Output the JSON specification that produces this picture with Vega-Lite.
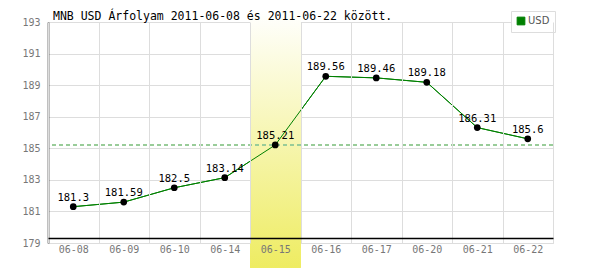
{
  "$schema": "https://vega.github.io/schema/vega-lite/v6.json",
  "width": 505,
  "height": 221,
  "autosize": {"type": "none"},
  "padding": {"left": 48, "top": 22, "right": 47, "bottom": 27},
  "background": "#ffffff",
  "title": {
    "text": "MNB USD Árfolyam 2011-06-08 és 2011-06-22 között.",
    "anchor": "start",
    "frame": "group",
    "font": "DejaVu Sans Mono",
    "fontSize": 11.5,
    "fontWeight": "normal",
    "color": "#000000",
    "offset": 4,
    "dx": 5,
    "dy": 16
  },
  "config": {
    "view": {"stroke": "#dddddd", "strokeWidth": 1}
  },
  "data": {
    "values": [
      {"date": "06-08", "rate": 181.3, "currency": "USD"},
      {"date": "06-09", "rate": 181.59, "currency": "USD"},
      {"date": "06-10", "rate": 182.5, "currency": "USD"},
      {"date": "06-14", "rate": 183.14, "currency": "USD"},
      {"date": "06-15", "rate": 185.21, "currency": "USD"},
      {"date": "06-16", "rate": 189.56, "currency": "USD"},
      {"date": "06-17", "rate": 189.46, "currency": "USD"},
      {"date": "06-20", "rate": 189.18, "currency": "USD"},
      {"date": "06-21", "rate": 186.31, "currency": "USD"},
      {"date": "06-22", "rate": 185.6, "currency": "USD"}
    ]
  },
  "layer": [
    {
      "mark": {"type": "line", "strokeWidth": 1},
      "encoding": {
        "x": {
          "field": "date",
          "type": "ordinal",
          "scale": {"domain": ["06-08", "06-09", "06-10", "06-14", "06-15", "06-16", "06-17", "06-20", "06-21", "06-22"], "paddingInner": 0, "paddingOuter": 0},
          "axis": {
            "title": null,
            "labelAngle": 0,
            "tickBand": "extent",
            "ticks": false,
            "grid": true,
            "gridColor": "#dddddd",
            "gridWidth": 1,
            "domainColor": "#000000",
            "domainWidth": 1.5,
            "offset": -5,
            "zindex": 1,
            "labelFont": "DejaVu Sans Mono",
            "labelFontSize": 10,
            "labelColor": "#777777",
            "labelPadding": 6
          }
        },
        "y": {
          "field": "rate",
          "type": "quantitative",
          "scale": {"domain": [179, 193], "nice": false, "zero": false},
          "axis": {
            "title": null,
            "values": [179, 181, 183, 185, 187, 189, 191, 193],
            "tickCount": 8,
            "labelOverlap": false,
            "ticks": false,
            "grid": true,
            "gridColor": "#dddddd",
            "domainColor": "#000000",
            "domainWidth": 1.5,
            "labelFont": "DejaVu Sans Mono",
            "labelFontSize": 10,
            "labelColor": "#777777",
            "labelPadding": 8
          }
        },
        "color": {
          "field": "currency",
          "type": "nominal",
          "scale": {"range": ["#008000"]},
          "legend": {
            "title": null,
            "orient": "none",
            "legendX": 463,
            "legendY": -11,
            "padding": 5,
            "strokeColor": "#dddddd",
            "fillColor": "#ffffff",
            "symbolType": "square",
            "symbolSize": 60,
            "labelFont": "DejaVu Sans",
            "labelFontSize": 10,
            "labelColor": "#555555",
            "labelOffset": 2,
            "encode": {
              "symbols": {"update": {"fill": {"value": "#008000"}, "stroke": {"value": "#555555"}, "strokeWidth": {"value": 1}}}
            }
          }
        }
      }
    },
    {
      "mark": {
        "type": "rect",
        "clip": false,
        "fill": {
          "gradient": "linear",
          "x1": 0, "y1": 0, "x2": 0, "y2": 1,
          "stops": [
            {"offset": 0, "color": "#ffffff"},
            {"offset": 1, "color": "#eeec62"}
          ]
        }
      },
      "encoding": {
        "x": {"datum": "06-15"},
        "y": {"datum": 193.75},
        "y2": {"datum": 177.45}
      }
    },
    {
      "mark": {"type": "rule", "color": "#99cc99", "strokeDash": [4, 3], "strokeWidth": 1},
      "encoding": {
        "y": {"datum": 185.21}
      }
    },
    {
      "mark": {"type": "line", "strokeWidth": 1, "color": "#008000"},
      "encoding": {
        "x": {"field": "date", "type": "ordinal"},
        "y": {"field": "rate", "type": "quantitative"}
      }
    },
    {
      "mark": {"type": "circle", "size": 45, "color": "#000000", "opacity": 1},
      "encoding": {
        "x": {"field": "date", "type": "ordinal"},
        "y": {"field": "rate", "type": "quantitative"}
      }
    },
    {
      "mark": {"type": "text", "font": "DejaVu Sans Mono", "fontSize": 10.5, "color": "#000000", "baseline": "bottom", "dy": -4},
      "encoding": {
        "x": {"field": "date", "type": "ordinal"},
        "y": {"field": "rate", "type": "quantitative"},
        "text": {"field": "rate", "type": "quantitative"}
      }
    }
  ]
}
